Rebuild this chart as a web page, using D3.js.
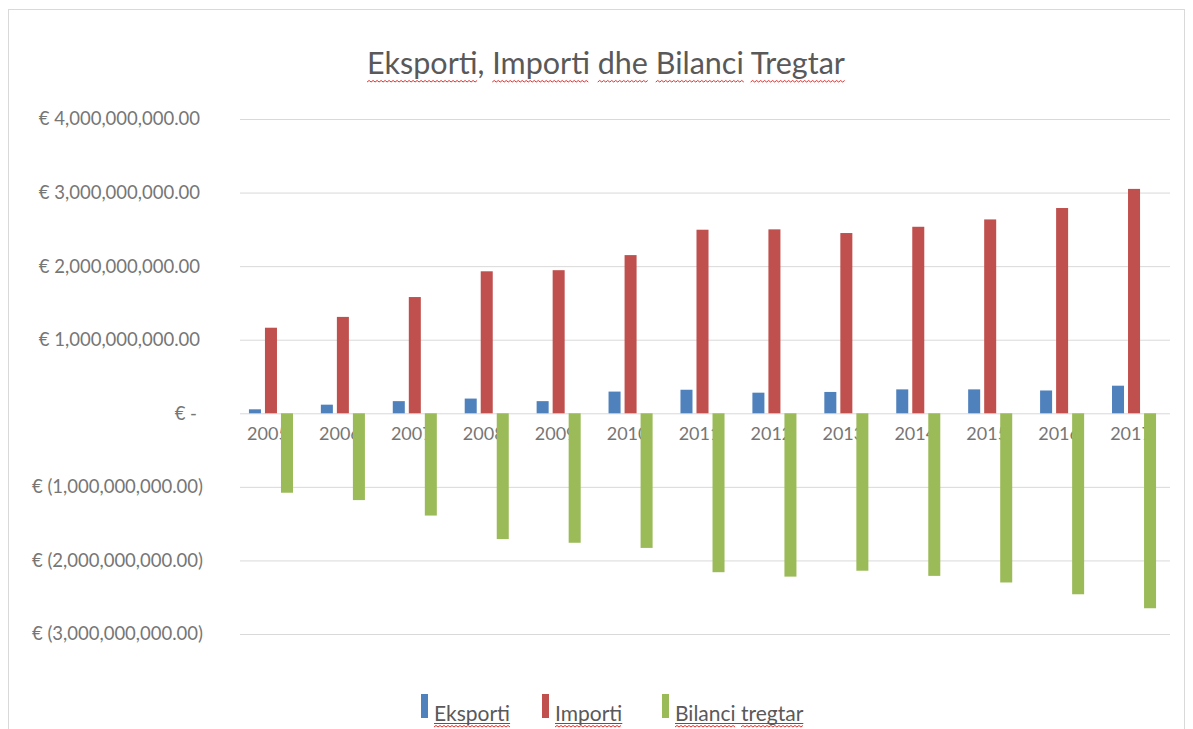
<!DOCTYPE html>
<html>
<head>
<meta charset="utf-8">
<script src="https://cdn.jsdelivr.net/npm/d3@7"></script>
<style>
  body { margin: 0; background: #fff; }
  svg { display: block; font-family: Lato, "Open Sans", sans-serif; }
</style>
</head>
<body>
<svg id="chart"></svg>
<script>
// data (euro)
const years = ["2005", "2006", "2007", "2008", "2009", "2010", "2011", "2012", "2013", "2014", "2015", "2016", "2017"];
const eksporti = [54e6, 117e6, 165e6, 200e6, 165e6, 295e6, 320e6, 280e6, 290e6, 325e6, 325e6, 310e6, 375e6];
const importi = [1163e6, 1310e6, 1580e6, 1930e6, 1945e6, 2150e6, 2495e6, 2500e6, 2450e6, 2535e6, 2635e6, 2790e6, 3050e6];
const bilanci = [-1080e6, -1180e6, -1390e6, -1710e6, -1760e6, -1830e6, -2160e6, -2220e6, -2140e6, -2210e6, -2300e6, -2460e6, -2650e6];
const seriesNames = ["Eksporti", "Importi", "Bilanci tregtar"];
const yTicks = [-3e9, -2e9, -1e9, 0, 1e9, 2e9, 3e9, 4e9];

const colors = ["#4f81bd", "#c0504d", "#9bbb59"];
const width = 1193, height = 729;
const font = "Lato, 'Open Sans', sans-serif";

const svg = d3.select("#chart").attr("width", width).attr("height", height);

// chart area border
svg.append("rect")
  .attr("x", 8.5).attr("y", 9.5)
  .attr("width", 1176).attr("height", 740)
  .attr("fill", "none").attr("stroke", "#d9d9d9");

//scales
const x = d3.scaleBand().domain(years).range([235, 1170]);
const xs = d3.scaleBand().domain(seriesNames).range([0, x.bandwidth()])
  .paddingInner(0.25).paddingOuter(0.87);
const y = d3.scaleLinear().domain([-3e9, 4e9]).range([634, 119]);

// accounting style tick labels
const fmt = d3.format(",.2f");
const tickLabel = (v) => {
  if (v === 0) return "€ -";
  if (v < 0) return "€ (" + fmt(-v) + ")";
  return "€ " + fmt(v);
};

//grid + y labels
const yAxis = d3.axisLeft(y).tickValues(yTicks).tickSize(-(1170 - 240)).tickFormat(tickLabel);
const gy = svg.append("g").attr("transform", "translate(240,0)").call(yAxis)
  .attr("font-family", font);
gy.select(".domain").remove();
gy.selectAll("line").attr("stroke", "#d9d9d9");
gy.selectAll("text")
  .attr("fill", "#767676")
  .attr("font-size", "18.5px")
  .attr("x", (d) => (d < 0 ? -37 : d === 0 ? -43 : -40));

//x labels (bars drawn over them like the original)
const xAxis = d3.axisBottom(x).tickSize(0).tickPadding(14);
const gx = svg.append("g").attr("transform", `translate(0,${y(0)})`).call(xAxis)
  .attr("font-family", font);
gx.select(".domain").remove();
gx.selectAll("text").attr("fill", "#767676").attr("font-size", "18px").attr("dx", "-3");

//bars
const allSeries = [eksporti, importi, bilanci];
allSeries.forEach((vals, si) => {
  svg.append("g")
    .selectAll("rect")
    .data(vals)
    .join("rect")
    .attr("x", (d, i) => x(years[i]) + xs(seriesNames[si]))
    .attr("width", xs.bandwidth())
    .attr("y", (d) => y(Math.max(0, d)))
    .attr("height", (d) => Math.abs(y(d) - y(0)))
    .attr("fill", colors[si]);
});

// red spell-check squiggle under a text range
const squiggle = (textNode, from, to, yy) => {
  const x0 = textNode.getStartPositionOfChar(from).x;
  const x1 = textNode.getEndPositionOfChar(to).x;
  let d = `M${x0},${yy}`;
  let up = true;
  for (let xx = x0 + 2; xx <= x1; xx += 2) {
    d += `L${xx},${yy + (up ? -1.5 : 0)}`;
    up = !up;
  }
  svg.append("path").attr("d", d).attr("fill", "none")
    .attr("stroke", "#e0302c").attr("stroke-width", 1);
};

const wordRanges = (str) => {
  const out = [];
  const re = /[A-Za-zë]+/g;
  let m;
  while ((m = re.exec(str)) !== null) out.push([m.index, m.index + m[0].length - 1]);
  return out;
};

//title
const titleText = "Eksporti, Importi dhe Bilanci Tregtar";
const title = svg.append("text")
  .attr("x", 606).attr("y", 74)
  .attr("text-anchor", "middle")
  .attr("font-size", "30.5px")
  .attr("fill", "#595959")
  .text(titleText);
wordRanges(titleText).forEach(([a, b]) => squiggle(title.node(), a, b, 82));

//legend
const legendX = [421, 542, 662];
seriesNames.forEach((name, i) => {
  svg.append("rect")
    .attr("x", legendX[i]).attr("y", 694)
    .attr("width", 7).attr("height", 24)
    .attr("fill", colors[i]);
  const t = svg.append("text")
    .attr("x", legendX[i] + 13).attr("y", 721)
    .attr("font-size", "21px")
    .attr("fill", "#595959")
    .text(name);
  svg.append("line")
    .attr("x1", legendX[i] + 13).attr("x2", legendX[i] + 13 + t.node().getComputedTextLength())
    .attr("y1", 723.5).attr("y2", 723.5)
    .attr("stroke", "#595959").attr("stroke-width", 1);
  wordRanges(name).forEach(([a, b]) => squiggle(t.node(), a, b, 727));
});
</script>
</body>
</html>
